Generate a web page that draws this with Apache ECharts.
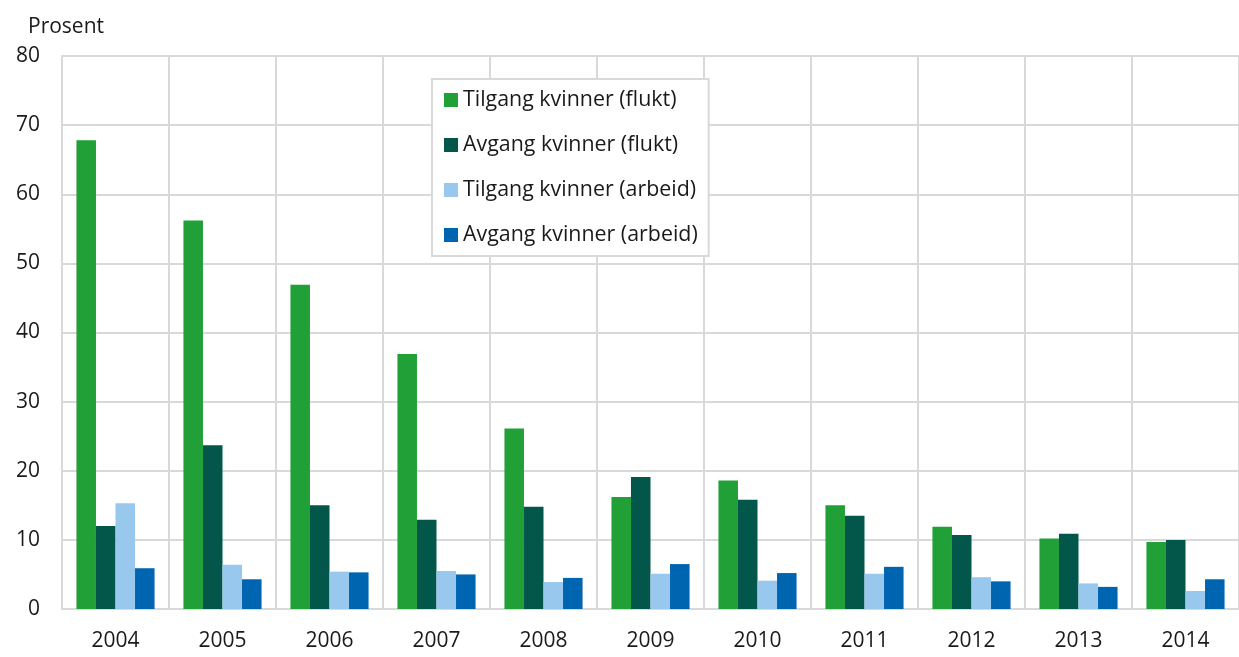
<!DOCTYPE html>
<html>
<head>
<meta charset="utf-8">
<script src="https://cdn.jsdelivr.net/npm/echarts@6/dist/echarts.min.js"></script>
<style>
  html, body { margin: 0; padding: 0; background: #fff; }
  #chart { width: 1239px; height: 657px; }
</style>
</head>
<body>
<div id="chart"></div>
<script>
// Andel kvinner blant tilgang og avgang, per år
const years = ['2004', '2005', '2006', '2007', '2008', '2009', '2010', '2011', '2012', '2013', '2014'];
const tilgangFlukt  = [67.8, 56.2, 46.9, 36.9, 26.1, 16.2, 18.6, 15.0, 11.9, 10.2, 9.7];
const avgangFlukt   = [12.0, 23.7, 15.0, 12.9, 14.8, 19.1, 15.8, 13.5, 10.7, 10.9, 10.0];
const tilgangArbeid = [15.3, 6.4, 5.4, 5.5, 3.9, 5.1, 4.1, 5.1, 4.6, 3.7, 2.6];
const avgangArbeid  = [5.9, 4.3, 5.3, 5.0, 4.5, 6.5, 5.2, 6.1, 4.0, 3.2, 4.3];
const seriesNames = ['Tilgang kvinner (flukt)', 'Avgang kvinner (flukt)', 'Tilgang kvinner (arbeid)', 'Avgang kvinner (arbeid)'];
const seriesColors = ['#21a038', '#02574a', '#98c8ee', '#0065b1'];
const seriesData = [tilgangFlukt, avgangFlukt, tilgangArbeid, avgangArbeid];

const font = '"Open Sans", "Noto Sans", sans-serif';
const gridColor = '#d9d9d9';
const textColor = '#1a1a1a';

const chart = echarts.init(document.getElementById('chart'), null, { renderer: 'canvas' });
chart.setOption({
  animation: false,
  backgroundColor: '#ffffff',
  textStyle: { fontFamily: font },
  title: {
    text: 'Prosent',
    left: 23, top: 12,
    textStyle: { fontFamily: font, fontSize: 21, fontWeight: 'normal', color: textColor }
  },
  grid: { left: 62, top: 56, right: -7, bottom: 48, containLabel: false },
  legend: {
    orient: 'vertical',
    left: 432, top: 79,
    padding: [9, 11, 9, 12],
    itemGap: 21,
    itemWidth: 14, itemHeight: 14,
    icon: 'rect',
    backgroundColor: '#ffffff',
    borderColor: gridColor, borderWidth: 2,
    textStyle: { fontFamily: font, fontSize: 21.4, color: textColor, lineHeight: 24 },
    data: seriesNames
  },
  xAxis: {
    type: 'category',
    data: years,
    axisTick: { show: false },
    axisLine: { show: true, lineStyle: { color: gridColor, width: 2 } },
    axisLabel: { fontFamily: font, fontSize: 21, color: textColor, margin: 22 },
    splitLine: { show: true, lineStyle: { color: gridColor, width: 2 } }
  },
  yAxis: {
    type: 'value',
    min: 0, max: 80, interval: 10,
    axisLine: { show: true, lineStyle: { color: gridColor, width: 2 } },
    axisTick: { show: false },
    axisLabel: { fontFamily: font, fontSize: 21, color: textColor, margin: 22 },
    splitLine: { show: true, lineStyle: { color: gridColor, width: 2 } }
  },
  series: seriesNames.map((name, i) => ({
    name: name,
    type: 'bar',
    data: seriesData[i],
    barGap: '0%',
    barCategoryGap: '27%',
    itemStyle: { color: seriesColors[i] }
  }))
});
</script>
</body>
</html>
